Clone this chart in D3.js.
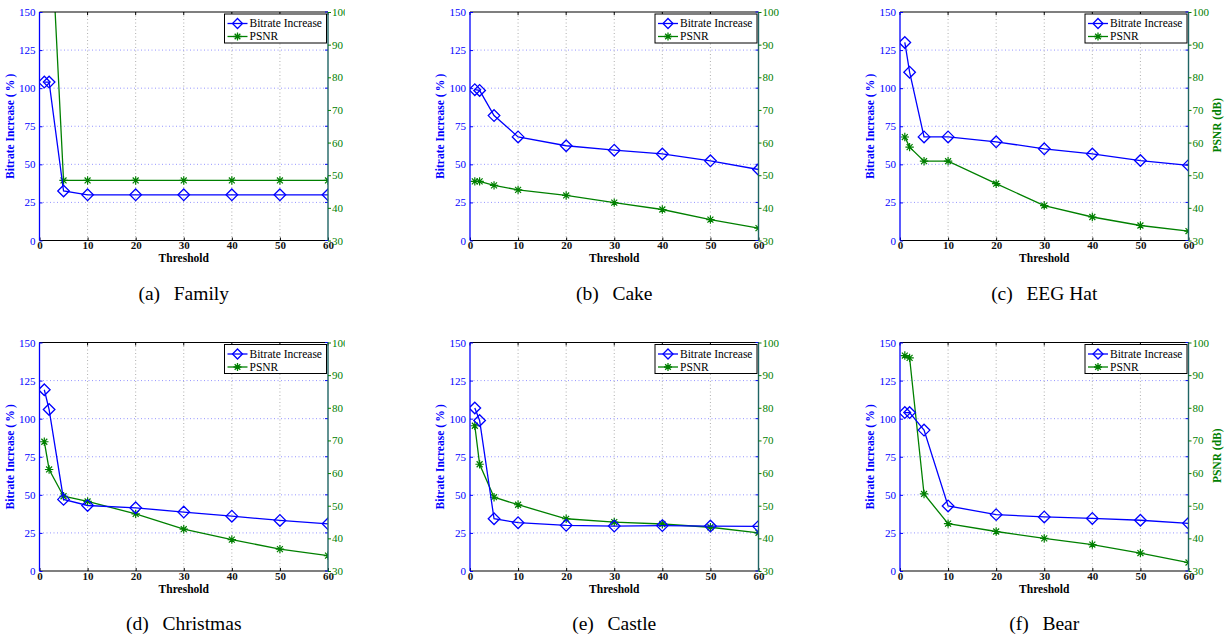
<!DOCTYPE html>
<html>
<head>
<meta charset="utf-8">
<script src="https://cdn.jsdelivr.net/npm/d3@7"></script>
<style>
  html, body { margin: 0; padding: 0; background: #fff; }
  svg { display: block; }
  svg text { font-family: "Liberation Serif", "Times New Roman", serif; }
</style>
</head>
<body>
<svg id="chart" width="1231" height="639"></svg>
<script>
// ---------- data ----------
const thresholds = [1, 2, 5, 10, 20, 30, 40, 50, 60];
const panelLetters = ["a", "b", "c", "d", "e", "f"];
const panelNames = ["Family", "Cake", "EEG Hat", "Christmas", "Castle", "Bear"];

const bitrateFamily    = [104, 104, 32.5, 30, 30, 30, 30, 30, 30];
const psnrFamily       = [137, 137, 48.4, 48.4, 48.4, 48.4, 48.4, 48.4, 48.4];
const bitrateCake      = [99, 98.5, 82, 68, 62.2, 59.3, 56.8, 52.3, 46.6];
const psnrCake         = [48.1, 48.1, 46.9, 45.5, 43.8, 41.6, 39.5, 36.4, 33.8];
const bitrateEEGHat    = [130, 110.5, 68, 68, 64.8, 60.2, 56.8, 52.5, 49.3];
const psnrEEGHat       = [61.7, 58.6, 54.3, 54.3, 47.4, 40.7, 37.2, 34.6, 32.9];
const bitrateChristmas = [119, 106, 47, 43, 41.5, 38.7, 36, 33.2, 31];
const psnrChristmas    = [69.6, 61.1, 52.9, 51.3, 47.5, 42.8, 39.6, 36.7, 34.7];
const bitrateCastle    = [107, 98.8, 34.3, 31.7, 30, 29.5, 29.8, 29.5, 29.3];
const psnrCastle       = [74.5, 62.7, 52.6, 50.3, 46, 45, 44.4, 43.4, 41.7];
const bitrateBear      = [104, 104, 92.5, 42.7, 37, 35.5, 34.5, 33.3, 31.3];
const psnrBear         = [96, 95.3, 53.6, 44.5, 42.1, 40, 38.1, 35.5, 32.6];

const bitrateSeries = [bitrateFamily, bitrateCake, bitrateEEGHat, bitrateChristmas, bitrateCastle, bitrateBear];
const psnrSeries    = [psnrFamily, psnrCake, psnrEEGHat, psnrChristmas, psnrCastle, psnrBear];

const xTickValues = [0, 10, 20, 30, 40, 50, 60];
const leftTickValues = [0, 25, 50, 75, 100, 125, 150];
const rightTickValues = [30, 40, 50, 60, 70, 80, 90, 100];

const xLabel = "Threshold";
const leftLabel = "Bitrate Increase (\u2009%\u2009)";
const rightLabel = "PSNR (dB)";
const legendLabels = ["Bitrate Increase", "PSNR"];

// ---------- layout ----------
const colLeft = [39.5, 470, 900];
const rowTop = [12, 342.5];
const plotW = 288.5, plotH = 228.5;
const showRightLabel = [false, false, true, false, false, true];
const clipRight = [345, 1231, 1231, 345, 1231, 1231];

const BLUE = "#0000ff", GREEN = "#008000";

const svg = d3.select("#chart");
const defs = svg.append("defs");

function diamond(s) {
  return `M0,${-s}L${s},0L0,${s}L${-s},0Z`;
}
function asterisk(s) {
  const d = s * 0.7071;
  return `M${-s},0L${s},0M0,${-s}L0,${s}M${-d},${-d}L${d},${d}M${-d},${d}L${d},${-d}`;
}

panelNames.forEach((name, i) => {
  const col = i % 3, row = Math.floor(i / 3);
  const left = colLeft[col], top = rowTop[row];

  const x = d3.scaleLinear().domain([0, 60]).range([0, plotW]);
  const yL = d3.scaleLinear().domain([0, 150]).range([plotH, 0]);
  const yR = d3.scaleLinear().domain([30, 100]).range([plotH, 0]);

  defs.append("clipPath").attr("id", "outer" + i)
    .append("rect").attr("x", col * 410 - 5).attr("y", row * 330 - 5)
    .attr("width", clipRight[i] - (col * 410 - 5)).attr("height", 340);
  defs.append("clipPath").attr("id", "plot" + i)
    .append("rect").attr("x", 0).attr("y", 0).attr("width", plotW).attr("height", plotH);

  const outer = svg.append("g").attr("clip-path", `url(#outer${i})`);
  const g = outer.append("g").attr("transform", `translate(${left},${top})`);

  // grid
  g.append("g").selectAll("line").data(xTickValues.slice(1, -1)).join("line")
    .attr("x1", d => x(d)).attr("x2", d => x(d)).attr("y1", 0).attr("y2", plotH)
    .attr("stroke", "#9a9a9a").attr("stroke-width", 0.8).attr("stroke-dasharray", "1,2.5");
  g.append("g").selectAll("line").data(leftTickValues.slice(1, -1)).join("line")
    .attr("x1", 0).attr("x2", plotW).attr("y1", d => yL(d)).attr("y2", d => yL(d))
    .attr("stroke", "#7a7aff").attr("stroke-width", 0.8).attr("stroke-dasharray", "1,2.5");

  // data
  const data = g.append("g").attr("clip-path", `url(#plot${i})`);
  const bitrate = bitrateSeries[i], psnr = psnrSeries[i];
  const lineL = d3.line().x((d, k) => x(thresholds[k])).y(d => yL(d));
  const lineR = d3.line().x((d, k) => x(thresholds[k])).y(d => yR(d));

  data.append("path").attr("d", lineR(psnr)).attr("fill", "none")
    .attr("stroke", GREEN).attr("stroke-width", 1.3);
  data.append("g").selectAll("path").data(psnr).join("path")
    .attr("transform", (d, k) => `translate(${x(thresholds[k])},${yR(d)})`)
    .attr("d", asterisk(4.2)).attr("stroke", GREEN).attr("stroke-width", 1.2).attr("fill", "none");

  data.append("path").attr("d", lineL(bitrate)).attr("fill", "none")
    .attr("stroke", BLUE).attr("stroke-width", 1.3);
  data.append("g").selectAll("path").data(bitrate).join("path")
    .attr("transform", (d, k) => `translate(${x(thresholds[k])},${yL(d)})`)
    .attr("d", diamond(5.8)).attr("stroke", BLUE).attr("stroke-width", 1.3).attr("fill", "none");

  // frame
  g.append("line").attr("x1", 0).attr("x2", plotW).attr("y1", 0).attr("y2", 0).attr("stroke", "#000").attr("stroke-width", 1.2);
  g.append("line").attr("x1", 0).attr("x2", plotW).attr("y1", plotH).attr("y2", plotH).attr("stroke", "#000").attr("stroke-width", 1.2);

  // x axis
  const xAxis = d3.axisBottom(x).tickValues(xTickValues).tickSize(-3).tickFormat(d3.format("d"));
  const xa = g.append("g").attr("transform", `translate(0,${plotH})`).call(xAxis);
  xa.attr("font-family", null);
  xa.select(".domain").remove();
  xa.selectAll(".tick line").attr("stroke", "#000");
  xa.selectAll("text").attr("y", 8.5).attr("dy", null).attr("fill", "#111")
    .attr("font-size", 11).attr("font-weight", "bold");
  g.append("g").selectAll("line").data(xTickValues).join("line")
    .attr("x1", d => x(d)).attr("x2", d => x(d)).attr("y1", 0).attr("y2", 3).attr("stroke", "#000");

  // left axis
  const la = g.append("g").call(d3.axisLeft(yL).tickValues(leftTickValues).tickSize(-3).tickPadding(4));
  la.attr("font-family", null);
  la.select(".domain").attr("d", `M0,0V${plotH}`).attr("stroke", BLUE).attr("stroke-width", 1.3);
  la.selectAll(".tick line").attr("stroke", BLUE);
  la.selectAll("text").attr("fill", BLUE).attr("font-size", 11);

  // right axis
  g.append("g").selectAll("line").data(leftTickValues).join("line")
    .attr("x1", plotW - 3).attr("x2", plotW).attr("y1", d => yL(d)).attr("y2", d => yL(d)).attr("stroke", BLUE);
  const ra = g.append("g").attr("transform", `translate(${plotW},0)`)
    .call(d3.axisRight(yR).tickValues(rightTickValues).tickSize(3).tickPadding(1));
  ra.attr("font-family", null);
  ra.select(".domain").attr("d", `M0,0V${plotH}`).attr("stroke", "#1f6464").attr("stroke-width", 1.4);
  ra.selectAll(".tick line").attr("stroke", GREEN);
  ra.selectAll("text").attr("fill", GREEN).attr("font-size", 11);

  // axis titles
  g.append("text").attr("x", plotW / 2).attr("y", plotH + 21.5).attr("text-anchor", "middle")
    .attr("font-size", 11.5).attr("font-weight", "bold").attr("fill", "#000").text(xLabel);
  g.append("text").attr("transform", `translate(${-26},${plotH / 2}) rotate(-90)`)
    .attr("text-anchor", "middle").attr("font-size", 11.5).attr("font-weight", "bold")
    .attr("fill", BLUE).text(leftLabel);
  if (showRightLabel[i]) {
    g.append("text").attr("transform", `translate(${plotW + 32},${plotH / 2 - 1}) rotate(-90)`)
      .attr("text-anchor", "middle").attr("font-size", 11.5).attr("font-weight", "bold")
      .attr("fill", GREEN).text(rightLabel);
  }

  // legend
  const lgW = 102, lgH = 29;
  const lg = g.append("g").attr("transform", `translate(${plotW - lgW - 1.5},${2})`);
  lg.append("rect").attr("width", lgW).attr("height", lgH).attr("fill", "#fff")
    .attr("stroke", "#000").attr("stroke-width", 1);
  const colors = [BLUE, GREEN];
  const markers = [diamond(5), asterisk(4)];
  legendLabels.forEach((lab, k) => {
    const cy = 9.5 + k * 13;
    lg.append("line").attr("x1", 3).attr("x2", 23).attr("y1", cy).attr("y2", cy)
      .attr("stroke", colors[k]).attr("stroke-width", 1.3);
    lg.append("path").attr("transform", `translate(13,${cy})`).attr("d", markers[k])
      .attr("stroke", colors[k]).attr("stroke-width", 1.3).attr("fill", "none");
    lg.append("text").attr("x", 25).attr("y", cy + 3.8).attr("font-size", 11.5).attr("fill", "#000").text(lab);
  });

  // caption
  svg.append("text").attr("x", left + plotW / 2).attr("y", top + plotH + 59)
    .attr("text-anchor", "middle").attr("font-size", 19.5).attr("fill", "#000")
    .text(`(${panelLetters[i]})\u2002\u2009${name}`);
});
</script>
</body>
</html>
